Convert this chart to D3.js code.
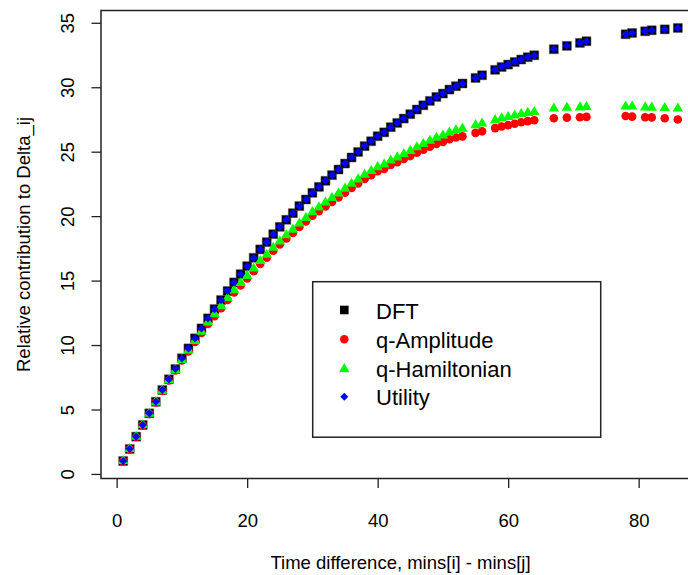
<!DOCTYPE html>
<html>
<head>
<meta charset="utf-8">
<script src="https://cdn.jsdelivr.net/npm/d3@7"></script>
<style>
  html, body { margin: 0; padding: 0; background: #fff; }
  svg { display: block; font-family: "Liberation Sans", Arial, sans-serif; }
</style>
</head>
<body>
<svg id="chart" width="688" height="575"></svg>
<script>
// ---- data ----
const timeDiff = [1,2,3,4,5,6,7,8,9,10,11,12,13,14,15,16,17,18,19,20,21,22,23,24,25,26,27,28,29,30,
  31,32,33,34,35,36,37,38,39,40,41,42,43,44,45,46,47,48,49,50,51,52,53,55,56,58,59,60,61,62,63,64,
  67,69,71,72,78,79,81,82,84,86];
const dft = [1.00,1.94,2.89,3.80,4.70,5.60,6.51,7.34,8.14,8.97,9.74,10.52,11.29,12.07,12.79,13.49,14.19,14.86,15.50,16.12,
  16.77,17.42,17.98,18.60,19.17,19.72,20.23,20.78,21.29,21.81,22.27,22.74,23.18,23.62,24.08,24.55,24.98,25.43,25.81,26.20,
  26.50,26.90,27.23,27.57,27.91,28.27,28.60,28.94,29.25,29.51,29.82,30.08,30.29,30.72,30.93,31.35,31.57,31.76,31.96,32.15,
  32.33,32.48,32.95,33.21,33.44,33.57,34.11,34.21,34.34,34.42,34.49,34.60];
const qAmplitude = [0.99,1.92,2.86,3.77,4.66,5.55,6.44,7.25,8.02,8.80,9.51,10.24,10.94,11.63,12.24,12.86,13.49,14.08,14.63,15.16,
  15.73,16.30,16.77,17.31,17.80,18.27,18.69,19.16,19.58,20.03,20.39,20.76,21.10,21.45,21.82,22.19,22.53,22.89,23.18,23.48,
  23.67,23.97,24.19,24.43,24.66,24.92,25.15,25.39,25.60,25.76,25.96,26.10,26.19,26.46,26.58,26.83,26.96,27.06,27.17,27.28,
  27.37,27.44,27.60,27.64,27.67,27.70,27.77,27.72,27.67,27.66,27.60,27.50];
const qHamiltonian = [1.00,1.94,2.88,3.79,4.68,5.57,6.46,7.27,8.05,8.85,9.58,10.32,11.04,11.75,12.39,13.02,13.66,14.26,14.82,15.36,
  15.94,16.52,17.00,17.55,18.04,18.52,18.95,19.43,19.86,20.31,20.68,21.06,21.41,21.76,22.13,22.51,22.85,23.21,23.50,23.80,
  24.01,24.32,24.56,24.81,25.06,25.34,25.59,25.85,26.08,26.26,26.49,26.66,26.79,27.06,27.19,27.45,27.59,27.69,27.81,27.92,
  28.01,28.08,28.35,28.41,28.44,28.47,28.51,28.51,28.44,28.42,28.39,28.35];
const utility = [1.00,1.94,2.89,3.80,4.70,5.60,6.51,7.34,8.14,8.97,9.74,10.52,11.29,12.07,12.79,13.49,14.19,14.86,15.50,16.12,
  16.77,17.42,17.98,18.60,19.17,19.72,20.23,20.78,21.29,21.81,22.27,22.74,23.18,23.62,24.08,24.55,24.98,25.43,25.81,26.20,
  26.50,26.90,27.23,27.57,27.91,28.27,28.60,28.94,29.25,29.51,29.82,30.08,30.29,30.72,30.93,31.35,31.57,31.76,31.96,32.15,
  32.33,32.48,32.95,33.21,33.44,33.57,34.11,34.21,34.34,34.42,34.49,34.60];
const seriesNames = ["DFT", "q-Amplitude", "q-Hamiltonian", "Utility"];
const xTicks = [0, 20, 40, 60, 80];
const yTicks = [0, 5, 10, 15, 20, 25, 30, 35];

// ---- layout ----
const svg = d3.select("#chart");
const pLeft = 101, pRight = 700, pTop = 10.5, pBottom = 478.5;
const x = d3.scaleLinear().domain([-2.4, 89.4]).range([pLeft, pRight]);
const y = d3.scaleLinear().domain([-0.354, 35.954]).range([pBottom, pTop]);

const fontAxis = 18.5;

// axes
const gx = svg.append("g").attr("transform", `translate(0,${pBottom})`)
  .call(d3.axisBottom(x).tickValues(xTicks).tickSize(9.5).tickSizeOuter(0).tickFormat(d3.format("d")));
gx.select(".domain").remove();
gx.selectAll(".tick line").attr("stroke", "#222").attr("stroke-width", 1.3);
gx.selectAll(".tick text").attr("y", null).attr("dy", null).attr("transform", "translate(0,48)")
  .attr("font-size", fontAxis).attr("fill", "#000").attr("font-family", "Liberation Sans, Arial, sans-serif");

const gy = svg.append("g").attr("transform", `translate(${pLeft},0)`)
  .call(d3.axisLeft(y).tickValues(yTicks).tickSize(9.5).tickSizeOuter(0).tickFormat(d3.format("d")));
gy.select(".domain").remove();
gy.selectAll(".tick line").attr("stroke", "#222").attr("stroke-width", 1.3);
gy.selectAll(".tick text").attr("x", null).attr("dy", null)
  .attr("transform", "translate(-27.5,0) rotate(-90)").attr("text-anchor", "middle")
  .attr("font-size", fontAxis).attr("fill", "#000").attr("font-family", "Liberation Sans, Arial, sans-serif");

// box
svg.append("rect").attr("x", pLeft).attr("y", pTop).attr("width", pRight - pLeft).attr("height", pBottom - pTop)
  .attr("fill", "none").attr("stroke", "#222").attr("stroke-width", 1.5);

// axis titles
svg.append("text").attr("x", (pLeft + pRight) / 2).attr("y", 568.5).attr("text-anchor", "middle")
  .attr("font-size", fontAxis).attr("fill", "#000").text("Time difference, mins[i] - mins[j]");
svg.append("text").attr("transform", `translate(29.5,${(pTop + pBottom) / 2}) rotate(-90)`).attr("text-anchor", "middle")
  .attr("font-size", fontAxis).attr("fill", "#000").text("Relative contribution to Delta_ij");

// marker shapes
const sq = 4.5, cr = 4.3, tri = 3.9, dm = 4.1;
function squarePath(cx, cy, s) { return `M${cx - s},${cy - s}h${2 * s}v${2 * s}h${-2 * s}Z`; }
function triPath(cx, cy, s) {
  return `M${cx},${cy - 1.555 * s}L${cx + 1.347 * s},${cy + 0.778 * s}L${cx - 1.347 * s},${cy + 0.778 * s}Z`;
}
function diamondPath(cx, cy, s) { return `M${cx},${cy - s}L${cx + s},${cy}L${cx},${cy + s}L${cx - s},${cy}Z`; }

const plot = svg.append("g");
const pts = (vals) => timeDiff.map((t, i) => ({ t, v: vals[i] }));

plot.selectAll("path.dft").data(pts(dft)).join("path").attr("class", "dft")
  .attr("d", d => squarePath(x(d.t), y(d.v), sq)).attr("fill", "#000").attr("stroke", "#555").attr("stroke-width", 0.5);
plot.selectAll("circle.qa").data(pts(qAmplitude)).join("circle").attr("class", "qa")
  .attr("cx", d => x(d.t)).attr("cy", d => y(d.v)).attr("r", cr).attr("fill", "#ff0000");
plot.selectAll("path.qh").data(pts(qHamiltonian)).join("path").attr("class", "qh")
  .attr("d", d => triPath(x(d.t), y(d.v), tri)).attr("fill", "#00ff00");
plot.selectAll("path.ut").data(pts(utility)).join("path").attr("class", "ut")
  .attr("d", d => diamondPath(x(d.t), y(d.v), dm)).attr("fill", "#0000ff");

// legend
const lg = svg.append("g");
lg.append("rect").attr("x", 312.7).attr("y", 281.7).attr("width", 288).attr("height", 155.5)
  .attr("fill", "#fff").attr("stroke", "#222").attr("stroke-width", 1.5);
const rows = [310, 339.3, 368.3, 396.7];
const symX = 344.3, txtX = 376;
lg.append("path").attr("d", squarePath(symX, rows[0], 4.3)).attr("fill", "#000");
lg.append("circle").attr("cx", symX).attr("cy", rows[1]).attr("r", 4.3).attr("fill", "#ff0000");
lg.append("path").attr("d", triPath(symX, rows[2] + 0.8, 3.9)).attr("fill", "#00ff00");
lg.append("path").attr("d", diamondPath(symX, rows[3], 4)).attr("fill", "#0000ff");
seriesNames.forEach((name, i) => {
  lg.append("text").attr("x", txtX).attr("y", rows[i] + 8.5).attr("font-size", 22).attr("fill", "#000").text(name);
});
</script>
</body>
</html>
